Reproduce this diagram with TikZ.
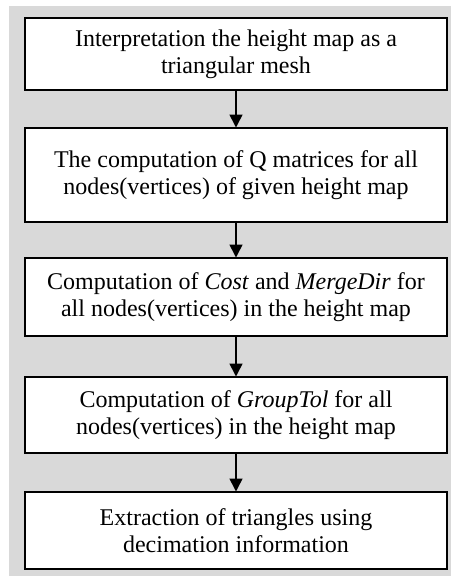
\documentclass[tikz,border=0pt]{standalone}
\usepackage{fontspec}
\setmainfont{Liberation Serif}
\usetikzlibrary{arrows.meta}
\definecolor{bggray}{HTML}{D9D9D9}
\tikzset{
  stepbox/.style={draw=black, line width=2pt, fill=white, minimum width=422pt, inner sep=0pt,
    align=center, font=\fontsize{24}{27}\selectfont},
  flow/.style={line width=1.6pt, -{Triangle[length=13pt,width=13pt]}, shorten >=-0.5pt}
}
\begin{document}
\begin{tikzpicture}[x=1pt,y=-1pt]
\useasboundingbox (0,0) rectangle (453,576);
\fill[bggray] (9,6) rectangle (451,576);
\node[stepbox, minimum height=72pt] (b1) at (236,54) {Interpretation the height map as a\\triangular mesh};
\node[stepbox, minimum height=94pt] (b2) at (236,175) {The computation of Q matrices for all\\nodes(vertices) of given height map};
\node[stepbox, minimum height=78pt] (b3) at (236,297) {Computation of \textit{Cost} and \textit{MergeDir} for\\all nodes(vertices) in the height map};
\node[stepbox, minimum height=76pt] (b4) at (236,415) {Computation of \textit{GroupTol} for all\\nodes(vertices) in the height map};
\node[stepbox, minimum height=77pt] (b5) at (236,530.5) {Extraction of triangles using\\decimation information};
\draw[flow] (b1) -- (b2);
\draw[flow] (b2) -- (b3);
\draw[flow] (b3) -- (b4);
\draw[flow] (b4) -- (b5);
\end{tikzpicture}
\end{document}
